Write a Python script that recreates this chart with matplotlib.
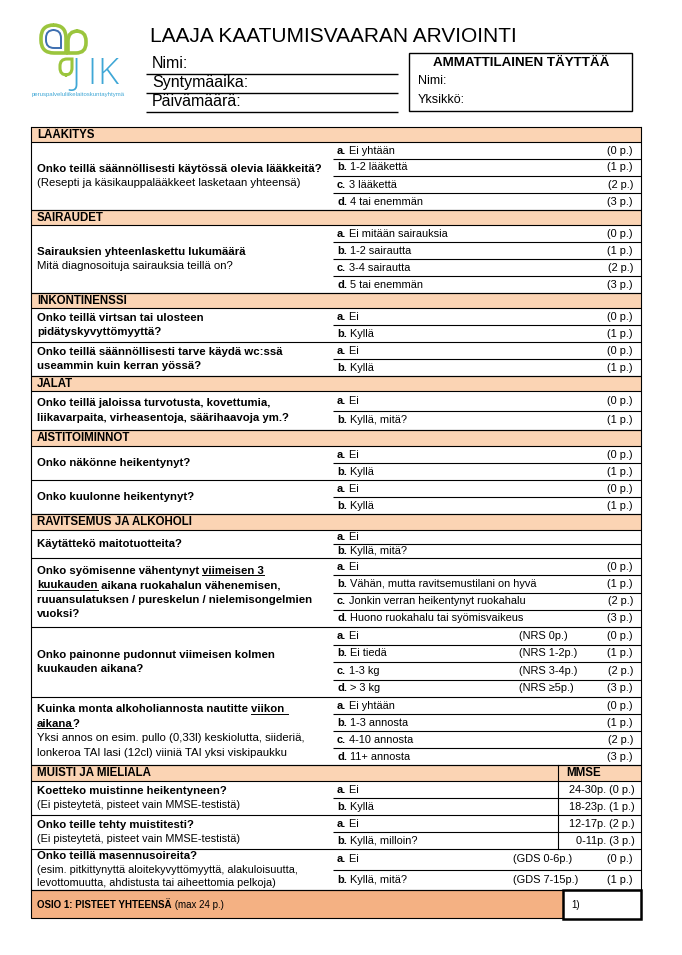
import matplotlib.pyplot as plt
from matplotlib.patches import Rectangle, PathPatch
from matplotlib.path import Path

plt.rcParams['font.family'] = ['Liberation Sans', 'DejaVu Sans']

# --- form content ---
title = "LAAJA KAATUMISVAARAN ARVIOINTI"
person_fields = ["Nimi:", "Syntymäaika:", "Päivämäärä:"]
staff_title = "AMMATTILAINEN TÄYTTÄÄ"
staff_fields = ["Nimi:", "Yksikkö:"]

sections = ["LÄÄKITYS", "SAIRAUDET", "INKONTINENSSI", "JALAT",
            "AISTITOIMINNOT", "RAVITSEMUS JA ALKOHOLI", "MUISTI JA MIELIALA"]
questions_per_section = [1, 1, 2, 1, 2, 4, 3]

# bold question lines (_text_ = underlined)
question_lines = [
    ["Onko teillä säännöllisesti käytössä olevia lääkkeitä?"],
    ["Sairauksien yhteenlaskettu lukumäärä"],
    ["Onko teillä virtsan tai ulosteen", "pidätyskyvyttömyyttä?"],
    ["Onko teillä säännöllisesti tarve käydä wc:ssä", "useammin kuin kerran yössä?"],
    ["Onko teillä jaloissa turvotusta, kovettumia,",
     "liikavarpaita, virheasentoja, säärihaavoja ym.?"],
    ["Onko näkönne heikentynyt?"],
    ["Onko kuulonne heikentynyt?"],
    ["Käytättekö maitotuotteita?"],
    ["Onko syömisenne vähentynyt _viimeisen 3_",
     "_kuukauden_ aikana ruokahalun vähenemisen,",
     "ruuansulatuksen / pureskelun / nielemisongelmien", "vuoksi?"],
    ["Onko painonne pudonnut viimeisen kolmen", "kuukauden aikana?"],
    ["Kuinka monta alkoholiannosta nautitte _viikon _", "_aikana_?"],
    ["Koetteko muistinne heikentyneen?"],
    ["Onko teille tehty muistitesti?"],
    ["Onko teillä masennusoireita?"],
]
# regular note lines under the question
question_notes = [
    ["(Resepti ja käsikauppalääkkeet lasketaan yhteensä)"],
    ["Mitä diagnosoituja sairauksia teillä on?"],
    [], [], [], [], [], [], [], [],
    ["Yksi annos on esim. pullo (0,33l) keskiolutta, siideriä,",
     "lonkeroa TAI lasi (12cl) viiniä TAI yksi viskipaukku"],
    ["(Ei pisteytetä, pisteet vain MMSE-testistä)"],
    ["(Ei pisteytetä, pisteet vain MMSE-testistä)"],
    ["(esim. pitkittynyttä aloitekyvyttömyyttä, alakuloisuutta,",
     "levottomuutta, ahdistusta tai aiheettomia pelkoja)"],
]

options = [
    ["Ei yhtään", "1-2 lääkettä", "3 lääkettä", "4 tai enemmän"],
    ["Ei mitään sairauksia", "1-2 sairautta", "3-4 sairautta", "5 tai enemmän"],
    ["Ei", "Kyllä"],
    ["Ei", "Kyllä"],
    ["Ei", "Kyllä, mitä?"],
    ["Ei", "Kyllä"],
    ["Ei", "Kyllä"],
    ["Ei", "Kyllä, mitä?"],
    ["Ei", "Vähän, mutta ravitsemustilani on hyvä",
     "Jonkin verran heikentynyt ruokahalu", "Huono ruokahalu tai syömisvaikeus"],
    ["Ei", "Ei tiedä", "1-3 kg", "> 3 kg"],
    ["Ei yhtään", "1-3 annosta", "4-10 annosta", "11+ annosta"],
    ["Ei", "Kyllä"],
    ["Ei", "Kyllä, milloin?"],
    ["Ei", "Kyllä, mitä?"],
]
points = [
    [0, 1, 2, 3], [0, 1, 2, 3], [0, 1], [0, 1], [0, 1], [0, 1], [0, 1],
    None, [0, 1, 2, 3], [0, 1, 2, 3], [0, 1, 2, 3], [0, 1], [2, 3], [0, 1],
]
nrs_labels = ["(NRS 0p.)", "(NRS 1-2p.)", "(NRS 3-4p.)", "(NRS ≥5p.)"]
mmse_labels = ["24-30p.", "18-23p.", "12-17p.", "0-11p."]
gds_labels = ["(GDS 0-6p.)", "(GDS 7-15p.)"]
total_label = ("OSIO 1: PISTEET YHTEENSÄ", " (max 24 p.)")
total_box_label = "1)"

# --- layout (pixels) ---
header_h = [15, 15, 15, 15, 16, 16, 16]
block_h = [68, 68, 34, 34, 39, 34, 34, 28, 69, 70, 68, 34, 34, 41]
L, R, MID, MMSE_X = 31, 641, 333, 558
TOP = 127
peach = "#FBD4B4"
peach_dark = "#F4B183"
FS_Q = 8.2   # question column
FS_H = 8.3   # section headers
FS_O = 7.9   # option column

fig = plt.figure(figsize=(6.82, 9.55), dpi=100)
ax = fig.add_axes([0, 0, 1, 1])
ax.set_xlim(0, 682)
ax.set_ylim(955, 0)
ax.axis("off")

underlined = []


def hline(y, x0=L, x1=R, lw=0.8):
    ax.plot([x0, x1], [y, y], color="black", lw=lw, solid_capstyle="butt")


def seg_text(x, y, s, bold=False, size=FS_Q):
    prev = None
    for i, part in enumerate(s.split("_")):
        if not part:
            continue
        kw = dict(fontsize=size, fontweight="bold" if bold else "normal",
                  color="black", va="center", ha="left")
        if prev is None:
            t = ax.text(x, y, part, **kw)
        else:
            t = ax.annotate(part, xy=(1, 0.5), xycoords=prev, **kw)
        if i % 2 == 1:
            underlined.append(t)
        prev = t
    return prev


def mixed(x, y, first, rest, size=FS_O):
    t = ax.text(x, y, first, fontsize=size, fontweight="bold", va="center", ha="left")
    ax.annotate(rest, xy=(1, 0.5), xycoords=t, fontsize=size, va="center", ha="left")


# --- logo ---
def leaf(x0, y0, x1, y1, sharp, r, color, lw):
    corners = [(x0, y0), (x1, y0), (x1, y1), (x0, y1)]
    verts, codes = [], []
    for i, (cx, cy) in enumerate(corners):
        px, py = corners[i - 1]
        nx, ny = corners[(i + 1) % 4]
        rr = 0 if i == sharp else r

        def toward(tx, ty):
            dx, dy = tx - cx, ty - cy
            d = (dx ** 2 + dy ** 2) ** 0.5
            return (cx + dx / d * rr, cy + dy / d * rr)

        verts += [toward(px, py), (cx, cy), toward(nx, ny)]
        codes += [Path.MOVETO if i == 0 else Path.LINETO, Path.CURVE3, Path.CURVE3]
    verts.append(verts[0])
    codes.append(Path.CLOSEPOLY)
    ax.add_patch(PathPatch(Path(verts, codes), fc="none", ec=color, lw=lw))


green = "#9BC53D"
blue = "#3FA7D6"
leaf(41, 25, 66, 53, 2, 13, green, 2.6)
leaf(46, 30, 61, 48, 2, 8, "#3D6FB0", 1.4)
leaf(68, 31, 86, 53, 3, 10, green, 2.6)
leaf(60, 59, 72, 75, 1, 7, green, 2.2)
for letter, lx in zip("JIK", [71, 87, 97]):
    ax.text(lx, 84, letter, fontsize=26, family="Open Sans", fontweight="light",
            color=blue, va="baseline", ha="left")
ax.text(32, 94.5, "peruspalveluliikelaitoskuntayhtymä", fontsize=4.3,
        color=blue, va="center", ha="left")

# --- title and fields ---
ax.text(150, 37, title, fontsize=15, va="center", ha="left")
for i, f in enumerate(person_fields):
    ax.text(152, 64 + 19 * i, f, fontsize=11.5, va="center", ha="left")
    hline(74 + 19 * i, 146, 398, lw=1.0)
ax.add_patch(Rectangle((409, 53), 223, 58, fc="none", ec="black", lw=1.0))
ax.text(521, 63, staff_title, fontsize=9.6, fontweight="bold", va="center", ha="center")
for i, f in enumerate(staff_fields):
    ax.text(418, 81 + 19 * i, f, fontsize=9, va="center", ha="left")

# --- table ---
y = TOP
q = 0
extra_left = {9: (nrs_labels, 519), 13: (gds_labels, 513)}
for s, sec in enumerate(sections):
    h = header_h[s]
    ax.add_patch(Rectangle((L, y), R - L, h, fc=peach, ec="none"))
    hline(y)
    hline(y + h)
    ax.text(37, y + h / 2, sec, fontsize=FS_H, fontweight="bold", va="center", ha="left")
    if s == len(sections) - 1:
        ax.text(566, y + h / 2, "MMSE", fontsize=FS_H, fontweight="bold",
                va="center", ha="left")
        mmse_top = y
    y += h
    for k in range(questions_per_section[s]):
        bh = block_h[q]
        opts = options[q]
        rh = bh / len(opts)
        # question text
        bold_lines = question_lines[q]
        notes = question_notes[q]
        small = q >= 11
        gap = 13.8 if small else 14.6
        n = len(bold_lines) + len(notes)
        y0 = y + bh / 2 - (n - 1) * gap / 2
        for j, line in enumerate(bold_lines):
            seg_text(37, y0 + j * gap, line, bold=True)
        for j, line in enumerate(notes):
            seg_text(37, y0 + (len(bold_lines) + j) * gap, line,
                     size=7.8 if small else FS_Q)
        # options
        for i, opt in enumerate(opts):
            yc = y + rh * (i + 0.5)
            mixed(337, yc, "abcd"[i] + ".", " " + opt)
            if i > 0:
                hline(y + rh * i, MID, R)
            if points[q] is not None:
                p = points[q][i]
                if q in (11, 12):
                    lab = mmse_labels[(q - 11) * 2 + i] + f" ({p} p.)"
                    ax.text(635, yc, lab, fontsize=FS_O, va="center", ha="right")
                else:
                    ax.text(633, yc, f"({p} p.)", fontsize=FS_O, va="center", ha="right")
            if q in extra_left:
                labs, ex = extra_left[q]
                ax.text(ex, yc, labs[i], fontsize=FS_O, va="center", ha="left")
        y += bh
        hline(y)
        q += 1

# MMSE column divider
ax.plot([MMSE_X, MMSE_X], [mmse_top, mmse_top + header_h[-1] + block_h[11] + block_h[12]],
        color="black", lw=0.8)

# total row
ax.add_patch(Rectangle((L, y), R - L, 28, fc=peach_dark, ec="black", lw=0.8))
mixed(37, y + 15, total_label[0], total_label[1], size=7)
ax.add_patch(Rectangle((563, y), R - 563, 29, fc="white", ec="black", lw=1.8))
ax.text(571, y + 15, total_box_label, fontsize=7, va="center", ha="left")

# outer borders
ax.plot([L, L], [TOP, y], color="black", lw=0.8)
ax.plot([R, R], [TOP, y], color="black", lw=0.8)

# underlines
fig.canvas.draw()
renderer = fig.canvas.get_renderer()
inv = ax.transData.inverted()
for t in underlined:
    bb = t.get_window_extent(renderer)
    (x0, yb), (x1, _) = inv.transform([[bb.x0, bb.y0], [bb.x1, bb.y1]])
    ax.plot([x0, x1], [yb - 0.5, yb - 0.5], color="black", lw=0.7)

fig.savefig("out.png", dpi=100)
